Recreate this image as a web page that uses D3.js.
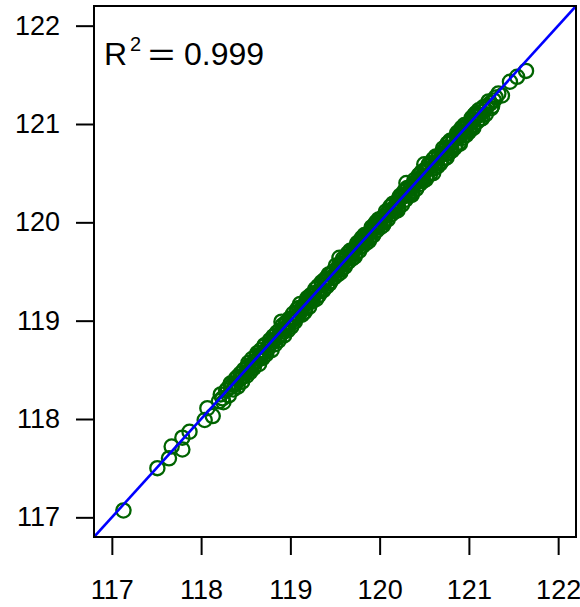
<!DOCTYPE html>
<html>
<head>
<meta charset="utf-8">
<script src="https://cdn.jsdelivr.net/npm/d3@7"></script>
<style>
  body { margin: 0; background: #fff; }
  text { font-family: Arial, "Liberation Sans", sans-serif; }
</style>
</head>
<body>
<div id="chart"></div>
<script>
// axis ticks
const xTicks = [117, 118, 119, 120, 121, 122];
const yTicks = [117, 118, 119, 120, 121, 122];
const domainMin = 116.8, domainMax = 122.2;
const r2Value = "0.999";

const points = [
  [117.13,117.07],[117.51,117.50],[117.64,117.60],[117.67,117.72],[117.79,117.69],[117.79,117.81],[117.87,117.87],
  [118.04,117.99],[118.07,118.11],[118.13,118.03],
  [118.20,118.18],[118.22,118.25],[118.25,118.17],[118.28,118.29],[118.31,118.24],[118.33,118.36],[118.36,118.30],
  [118.39,118.41],[118.41,118.33],[118.44,118.46],[118.46,118.38],[118.48,118.50],[118.51,118.44],[118.53,118.57],
  [118.55,118.48],[118.57,118.61],[118.59,118.52],[118.61,118.58],[118.63,118.67],[118.65,118.56],[118.67,118.70],
  [118.69,118.62],[118.71,118.75],[118.73,118.66],[118.75,118.72],[118.77,118.80],[118.79,118.70],[118.81,118.84],
  [118.83,118.76],[118.85,118.88],[118.87,118.80],[118.89,118.86],[118.91,118.95],[118.93,118.85],[118.95,118.98],
  [118.97,118.90],[118.99,119.02],[119.01,118.94],
  [118.30,118.31],[118.38,118.35],[118.45,118.42],[118.52,118.53],[118.58,118.55],[118.64,118.62],[118.70,118.68],
  [118.76,118.75],[118.82,118.80],[118.88,118.90],[118.94,118.92],
  [118.24,118.21],[118.34,118.33],[118.43,118.40],[118.50,118.47],[118.56,118.53],[118.62,118.64],[118.68,118.65],
  [118.74,118.71],[118.80,118.78],[118.86,118.83],[118.92,118.89],[118.98,118.95],
  [119.03,119.07],[119.05,118.99],[119.07,119.08],[119.09,119.05],[119.11,119.17],[119.13,119.06],[119.15,119.15],
  [119.17,119.13],[119.19,119.23],[119.21,119.14],[119.23,119.26],[119.25,119.20],[119.27,119.28],[119.29,119.22],
  [119.31,119.35],[119.33,119.30],[119.35,119.39],[119.37,119.31],[119.39,119.40],[119.41,119.35],[119.43,119.47],
  [119.45,119.40],[119.47,119.48],[119.49,119.44],[119.51,119.56],[119.53,119.47],[119.55,119.57],[119.57,119.52],
  [119.59,119.63],[119.61,119.55],[119.63,119.65],[119.65,119.60],[119.67,119.71],[119.69,119.63],[119.71,119.72],
  [119.73,119.68],[119.75,119.79],[119.77,119.71],[119.79,119.81],[119.81,119.76],[119.83,119.87],[119.85,119.79],
  [119.87,119.88],[119.89,119.84],[119.91,119.95],[119.93,119.87],[119.95,119.97],[119.97,119.92],[119.99,120.03],
  [120.01,119.95],[120.03,120.04],[120.05,120.00],[120.07,120.11],[120.09,120.03],[120.11,120.12],[120.13,120.08],
  [120.15,120.19],[120.17,120.11],[120.19,120.20],[120.21,120.15],[120.23,120.27],[120.25,120.18],[120.27,120.28],
  [120.29,120.23],[120.31,120.35],[120.33,120.27],[120.35,120.36],[120.37,120.31],[120.39,120.43],[120.41,120.34],
  [120.43,120.44],[120.45,120.39],[120.47,120.51],[120.49,120.42],[120.51,120.52],[120.53,120.47],[120.55,120.59],
  [120.57,120.50],[120.59,120.60],[120.61,120.55],[120.63,120.67],[120.65,120.57],[120.67,120.68],[120.69,120.62],
  [120.71,120.75],[120.73,120.65],[120.75,120.76],[120.77,120.70],[120.79,120.83],[120.81,120.73],[120.83,120.84],
  [120.85,120.78],[120.87,120.91],[120.89,120.81],[120.91,120.92],[120.93,120.86],[120.95,120.99],[120.97,120.89],
  [120.99,121.00],[121.01,120.94],[121.03,121.06],[121.05,120.98],[121.07,121.08],[121.09,121.02],[121.11,121.14],
  [121.13,121.05],[121.16,121.17],[121.19,121.10],[121.22,121.23],[121.26,121.18],[121.30,121.27],[121.37,121.29],
  [121.46,121.43],[121.54,121.48],[121.64,121.54],
  [119.00,119.01],[119.04,119.02],[119.08,119.12],[119.12,119.10],[119.16,119.09],[119.20,119.21],[119.24,119.22],
  [119.28,119.32],[119.32,119.26],[119.36,119.37],[119.40,119.43],[119.44,119.38],[119.48,119.50],[119.52,119.51],
  [119.56,119.49],[119.60,119.61],[119.64,119.68],[119.68,119.66],[119.72,119.65],[119.76,119.77],[119.80,119.84],
  [119.84,119.82],[119.88,119.81],[119.92,119.93],[119.96,120.00],[120.00,119.98],[120.04,119.97],[120.08,120.09],
  [120.12,120.16],[120.16,120.14],[120.20,120.12],[120.24,120.25],[120.28,120.32],[120.32,120.29],[120.36,120.28],
  [120.40,120.41],[120.44,120.48],[120.48,120.45],[120.52,120.44],[120.56,120.57],[120.60,120.64],[120.64,120.61],
  [120.68,120.60],[120.72,120.73],[120.76,120.80],[120.80,120.76],[120.84,120.76],[120.88,120.88],[120.92,120.96],
  [120.96,120.93],[121.00,120.92],[121.04,121.04],[121.08,121.11],[121.12,121.09],[121.18,121.15],[121.24,121.21],
  [121.33,121.31],
  [118.35,118.35],[118.41,118.43],[118.47,118.44],[118.53,118.54],[118.59,118.58],[118.65,118.61],[118.71,118.74],
  [118.77,118.77],[118.83,118.85],[118.89,118.86],[118.95,118.96],[119.02,119.01],[119.06,119.02],[119.10,119.13],
  [119.14,119.14],[119.18,119.20],[119.22,119.19],[119.26,119.27],[119.30,119.29],[119.34,119.30],[119.38,119.41],
  [119.42,119.42],[119.46,119.48],[119.50,119.47],[119.54,119.55],[119.58,119.57],[119.62,119.58],[119.66,119.69],
  [119.70,119.70],[119.74,119.76],[119.78,119.75],[119.82,119.83],[119.86,119.85],[119.90,119.86],[119.94,119.97],
  [119.98,119.98],[120.02,120.04],[120.06,120.03],[120.10,120.11],[120.14,120.13],[120.18,120.14],[120.22,120.25],
  [120.26,120.26],[120.30,120.32],[120.34,120.31],[120.38,120.39],[120.42,120.41],[120.46,120.42],[120.50,120.53],
  [120.54,120.54],[120.58,120.60],[120.62,120.59],[120.66,120.67],[120.70,120.69],[120.74,120.70],[120.78,120.81],
  [120.82,120.82],[120.86,120.88],[120.90,120.87],[120.94,120.95],[120.98,120.97],[121.02,120.98],[121.06,121.09],
  [121.10,121.10],[121.14,121.12],[121.20,121.18],[121.28,121.24],
  [120.60,120.50],[120.75,120.66],[120.90,120.80],[121.05,120.96],[121.15,121.06],[121.25,121.16],
  [120.30,120.40],[120.50,120.59],[119.55,119.64],[118.90,118.99]
];

const width = 580, height = 607;
const box = { left: 94, right: 576, top: 6, bottom: 537 };

const svg = d3.select("#chart")
  .append("svg")
  .attr("width", width)
  .attr("height", height);

const x = d3.scaleLinear()
  .domain([domainMin, domainMax])
  .range([box.left, box.right]);
const y = d3.scaleLinear()
  .domain([domainMin, domainMax])
  .range([box.bottom, box.top]);

svg.append("clipPath")
  .attr("id", "plotclip")
  .append("rect")
  .attr("x", box.left).attr("y", box.top)
  .attr("width", box.right - box.left).attr("height", box.bottom - box.top);

// points
svg.append("g")
  .attr("clip-path", "url(#plotclip)")
  .selectAll("circle")
  .data(points)
  .join("circle")
  .attr("cx", d => x(d[0]))
  .attr("cy", d => y(d[1]))
  .attr("r", 7.1)
  .attr("fill", "none")
  .attr("stroke", "#006400")
  .attr("stroke-width", 2.3);

// 1:1 line
svg.append("line")
  .attr("clip-path", "url(#plotclip)")
  .attr("x1", x(domainMin)).attr("y1", y(domainMin))
  .attr("x2", x(domainMax)).attr("y2", y(domainMax))
  .attr("stroke", "#0000ff")
  .attr("stroke-width", 2.6);

// frame
svg.append("rect")
  .attr("x", box.left).attr("y", box.top)
  .attr("width", box.right - box.left).attr("height", box.bottom - box.top)
  .attr("fill", "none")
  .attr("stroke", "#000")
  .attr("stroke-width", 2);

// axes
const xAxis = svg.append("g")
  .attr("transform", `translate(0,${box.bottom})`)
  .call(d3.axisBottom(x).tickValues(xTicks).tickFormat(d3.format("d")).tickSize(18).tickPadding(25));
const yAxis = svg.append("g")
  .attr("transform", `translate(${box.left},0)`)
  .call(d3.axisLeft(y).tickValues(yTicks).tickFormat(d3.format("d")).tickSize(18).tickPadding(16));

[xAxis, yAxis].forEach(g => {
  g.select(".domain").remove();
  g.selectAll(".tick line").attr("stroke", "#000").attr("stroke-width", 2);
  g.selectAll(".tick text")
    .attr("fill", "#000")
    .style("font-family", 'Arial, "Liberation Sans", sans-serif')
    .style("font-size", "27px");
});

// R squared label
const lab = svg.append("text")
  .attr("y", 65)
  .style("font-size", "32px")
  .attr("fill", "#000");
lab.append("tspan").attr("x", 104).text("R");
lab.append("tspan").attr("x", 130).attr("dy", -14).style("font-size", "20px").text("2");
lab.append("tspan").attr("x", 148).attr("dy", 14)
  .attr("textLength", 27).attr("lengthAdjust", "spacingAndGlyphs").text("=");
lab.append("tspan").attr("x", 184).text(r2Value);
</script>
</body>
</html>
